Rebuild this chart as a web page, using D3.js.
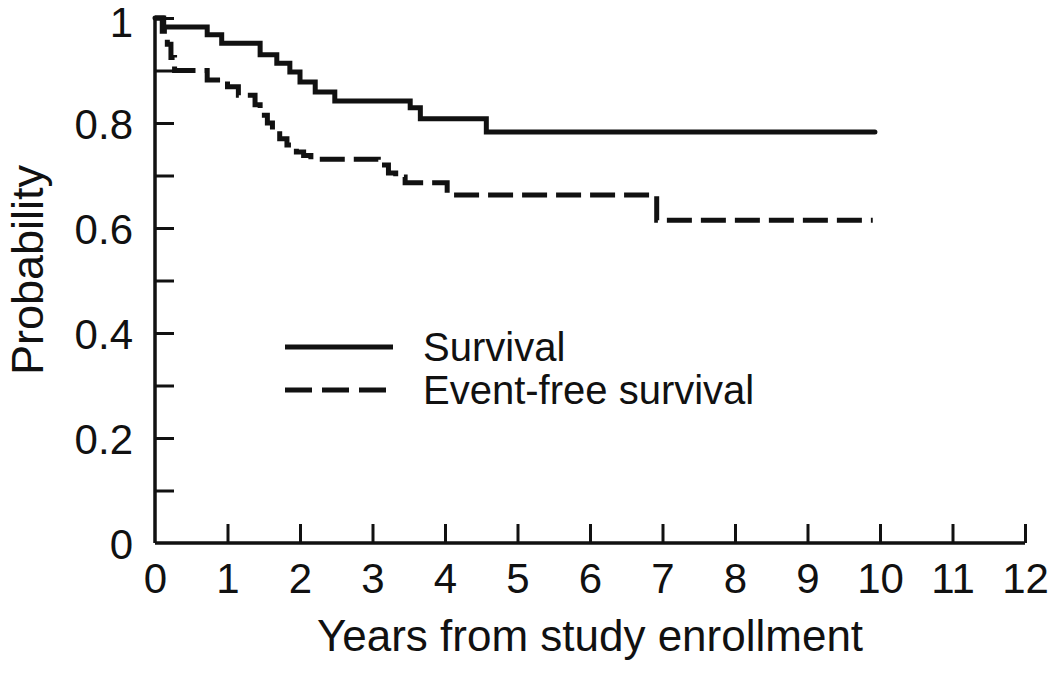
<!DOCTYPE html>
<html>
<head>
<meta charset="utf-8">
<script src="https://d3js.org/d3.v7.min.js"></script>
<style>
  body { margin: 0; background: #fff; }
  svg { display: block; }
  text { font-family: "Liberation Sans", Arial, sans-serif; fill: #111; }
</style>
</head>
<body>
<svg id="chart" width="1050" height="681"></svg>
<script>
// Kaplan-Meier steps
const survTimes  = [0, 0.12, 0.72, 0.92, 1.45, 1.68, 1.86, 2.0, 2.21, 2.48, 3.52, 3.66, 4.57, 9.93];
const survValues = [1.0, 0.983, 0.968, 0.952, 0.93, 0.914, 0.897, 0.878, 0.859, 0.842, 0.829, 0.808, 0.783, 0.783];

const efsTimes  = [0, 0.1, 0.17, 0.22, 0.27, 0.72, 1.0, 1.15, 1.38, 1.45, 1.55, 1.62, 1.72, 1.82, 1.95, 2.05, 2.15, 3.08, 3.22, 3.32, 3.45, 4.03, 6.92, 9.9];
const efsValues = [1.0, 0.975, 0.95, 0.925, 0.9, 0.882, 0.869, 0.853, 0.835, 0.815, 0.80, 0.785, 0.77, 0.758, 0.745, 0.738, 0.731, 0.72, 0.705, 0.697, 0.686, 0.663, 0.615, 0.615];

const xTicks = d3.range(0, 13);
const yTicks = d3.range(0, 11).map(d => d / 10);
const yLabels = [0, 0.2, 0.4, 0.6, 0.8, 1];
const seriesNames = ["Survival", "Event-free survival"];

const svg = d3.select("#chart");
const plotLeft = 155, plotTop = 18, plotRight = 1025, plotBottom = 543;

const x = d3.scaleLinear().domain([0, 12]).range([plotLeft, plotRight]);
const y = d3.scaleLinear().domain([0, 1]).range([plotBottom, plotTop]);

const fontSize = 42;

// x axis, ticks point inward
const xAxis = svg.append("g")
    .attr("transform", `translate(0,${plotBottom})`)
    .call(d3.axisBottom(x).tickValues(xTicks).tickSize(-19).tickPadding(0).tickFormat(d3.format("d")));
xAxis.select(".domain").attr("stroke", "#111").attr("stroke-width", 3.5).attr("d", `M${plotLeft},0H${plotRight}`);
xAxis.selectAll(".tick line").attr("stroke", "#111").attr("stroke-width", 3);
xAxis.selectAll(".tick").filter(d => d === 0).select("line").remove();
xAxis.selectAll(".tick text")
    .attr("y", 50)
    .attr("dy", null)
    .style("font-size", fontSize + "px")
    .style("font-family", "Liberation Sans, Arial, sans-serif")
    .attr("fill", "#111");

// y axis
const yAxis = svg.append("g")
    .attr("transform", `translate(${plotLeft},0)`)
    .call(d3.axisLeft(y).tickValues(yTicks).tickSize(-19).tickPadding(0)
        .tickFormat(d => yLabels.some(v => Math.abs(v - d) < 1e-9) ? d3.format("~g")(d) : ""));
yAxis.select(".domain").attr("stroke", "#111").attr("stroke-width", 3.5).attr("d", `M0,${plotTop}V${plotBottom}`);
yAxis.selectAll(".tick line").attr("stroke", "#111").attr("stroke-width", 3);
yAxis.selectAll(".tick").filter(d => d === 0).select("line").remove();
yAxis.selectAll(".tick text")
    .attr("x", -22)
    .attr("dy", "0.36em")
    .style("font-size", fontSize + "px")
    .style("font-family", "Liberation Sans, Arial, sans-serif")
    .attr("fill", "#111");
// keep the top label inside the picture
yAxis.selectAll(".tick text").filter(d => d === 1).attr("dy", "0.45em");

// axis titles
svg.append("text")
    .attr("x", (plotLeft + plotRight) / 2)
    .attr("y", 651)
    .attr("text-anchor", "middle")
    .style("font-size", "44px")
    .text("Years from study enrollment");

svg.append("text")
    .attr("transform", "translate(43,270) rotate(-90)")
    .attr("text-anchor", "middle")
    .style("font-size", "45px")
    .text("Probability");

// curves
const step = d3.line()
    .x(d => x(d[0]))
    .y(d => y(d[1]))
    .curve(d3.curveStepAfter);

const surv = d3.zip(survTimes, survValues);
const efs = d3.zip(efsTimes, efsValues);

svg.append("path")
    .datum(efs)
    .attr("d", step)
    .attr("fill", "none")
    .attr("stroke", "#111")
    .attr("stroke-width", 5)
    .attr("stroke-dasharray", "25,9");

svg.append("path")
    .datum(surv)
    .attr("d", step)
    .attr("fill", "none")
    .attr("stroke", "#111")
    .attr("stroke-width", 5)
    .attr("stroke-linecap", "round");

// legend
const legend = svg.append("g");
const legendY = [347, 390];
seriesNames.forEach((name, i) => {
    legend.append("line")
        .attr("x1", 285).attr("x2", 393)
        .attr("y1", legendY[i]).attr("y2", legendY[i])
        .attr("stroke", "#111")
        .attr("stroke-width", 5)
        .attr("stroke-dasharray", i === 1 ? "27,10" : null);
    legend.append("text")
        .attr("x", 423)
        .attr("y", legendY[i])
        .attr("dy", "0.36em")
        .style("font-size", "40px")
        .text(name);
});
</script>
</body>
</html>
